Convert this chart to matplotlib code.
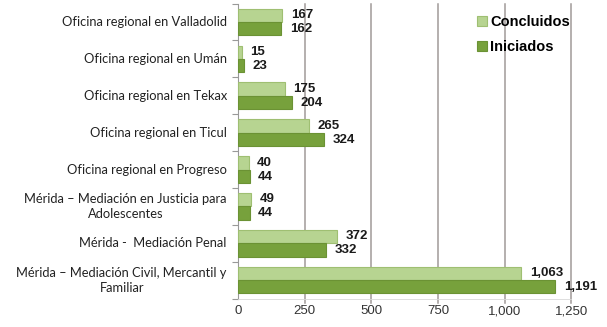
import matplotlib
matplotlib.use("Agg")
import matplotlib.pyplot as plt
import matplotlib.transforms as mtransforms
import numpy as np
from matplotlib.ticker import FixedLocator, FuncFormatter

categories = [
    "Oficina regional en Valladolid",
    "Oficina regional en Umán",
    "Oficina regional en Tekax",
    "Oficina regional en Ticul",
    "Oficina regional en Progreso",
    "Mérida – Mediación en Justicia para\nAdolescentes",
    "Mérida -  Mediación Penal",
    "Mérida – Mediación Civil, Mercantil y\nFamiliar",
]
concluidos = [167, 15, 175, 265, 40, 49, 372, 1063]
iniciados = [162, 23, 204, 324, 44, 44, 332, 1191]
xticks = [0, 250, 500, 750, 1000, 1250]

light = "#b7d491"
dark = "#77a13c"

fig = plt.figure(figsize=(6.07, 3.27), dpi=100)
ax = fig.add_axes([0.392, 0.087, 0.549, 0.902])

y = np.arange(len(categories))
h = 0.36
b1 = ax.barh(y - h / 2, concluidos, height=h, color=light, edgecolor="#9fbf72",
             linewidth=0.8, label="Concluidos", zorder=3)
b2 = ax.barh(y + h / 2, iniciados, height=h, color=dark, edgecolor="#6b9234",
             linewidth=0.8, label="Iniciados", zorder=3)

# value labels just past the end of each bar
for bars, vals, dy in ((b1, concluidos, -0.01), (b2, iniciados, 0.01)):
    for rect, v in zip(bars, vals):
        ax.text(v + 32, rect.get_y() + rect.get_height() / 2 + dy, f"{v:,}",
                va="center", ha="left", fontsize=9.5, fontweight="bold",
                family="Liberation Sans", color="#1a1a1a", zorder=4)

ax.set_ylim(len(categories) - 0.5, -0.5)
ax.set_xlim(0, 1250)
ax.set_yticks(y)
ax.set_yticklabels([])

# category names: right-aligned block, each line centred
label_tr = (mtransforms.blended_transform_factory(ax.transAxes, ax.transData)
            + mtransforms.ScaledTranslation(-8 / 72, 0, fig.dpi_scale_trans))
for yi, name in zip(y, categories):
    ax.text(0, yi, name, transform=label_tr, ha="right", va="center",
            multialignment="center", fontsize=9.3, family="Lato",
            color="#222222", linespacing=1.3)

ax.yaxis.set_minor_locator(FixedLocator(np.arange(-0.5, len(categories), 1)))
ax.tick_params(axis="y", which="major", length=0)
ax.tick_params(axis="y", which="minor", length=4, color="#999999", width=0.8)

ax.xaxis.set_major_locator(FixedLocator(xticks))
ax.xaxis.set_major_formatter(FuncFormatter(lambda v, p: f"{int(v):,}"))
ax.tick_params(axis="x", length=0, labelsize=9.5, pad=5, labelcolor="#333333")
for lab in ax.get_xticklabels():
    lab.set_family("Liberation Sans")

for xv in xticks[1:]:
    ax.axvline(xv, ymin=-0.015, ymax=1.0, color="#a09a98", linewidth=1.1,
               zorder=1, clip_on=False)

for s in ("top", "right"):
    ax.spines[s].set_visible(False)
ax.spines["bottom"].set_color("#d8d8d8")
ax.spines["bottom"].set_linewidth(0.6)
ax.spines["left"].set_color("#999999")
ax.spines["left"].set_linewidth(0.8)

leg = ax.legend(loc="upper right", bbox_to_anchor=(1.035, 1.005), frameon=False,
                prop={"family": "Liberation Sans", "weight": "bold", "size": 10.5},
                handlelength=0.7, handleheight=0.7, handletextpad=0.2,
                labelspacing=0.75)

fig.savefig("out.png", dpi=100, facecolor="white")
